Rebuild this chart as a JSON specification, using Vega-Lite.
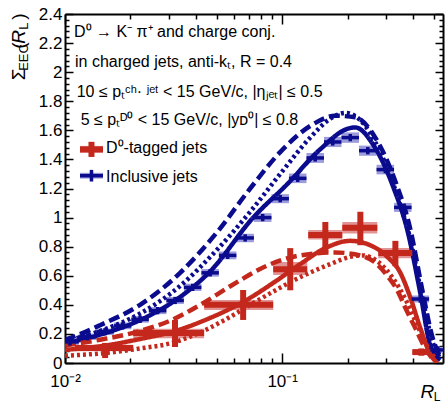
{
  "$schema": "https://vega.github.io/schema/vega-lite/v6.json",
  "width": 378,
  "height": 349,
  "autosize": {"type": "none"},
  "padding": {"left": 65, "top": 14, "right": 4, "bottom": 43},
  "background": "white",
  "config": {"view": {"stroke": null}, "font": "Liberation Sans"},
  "datasets": {
    "pts": [
      {"series":"incl","x":0.01054,"xlo":0.01,"xhi":0.01157,"y":0.145,"ylo":0.12,"yhi":0.17,"slo":0.124,"shi":0.167},
      {"series":"incl","x":0.0127,"xlo":0.01157,"xhi":0.01393,"y":0.18,"ylo":0.155,"yhi":0.205,"slo":0.158,"shi":0.202},
      {"series":"incl","x":0.01529,"xlo":0.01393,"xhi":0.01677,"y":0.215,"ylo":0.19,"yhi":0.24,"slo":0.193,"shi":0.237},
      {"series":"incl","x":0.01841,"xlo":0.01677,"xhi":0.0202,"y":0.255,"ylo":0.23,"yhi":0.28,"slo":0.232,"shi":0.278},
      {"series":"incl","x":0.02216,"xlo":0.0202,"xhi":0.02432,"y":0.3,"ylo":0.275,"yhi":0.325,"slo":0.277,"shi":0.323},
      {"series":"incl","x":0.02669,"xlo":0.02432,"xhi":0.02929,"y":0.36,"ylo":0.335,"yhi":0.385,"slo":0.336,"shi":0.384},
      {"series":"incl","x":0.03213,"xlo":0.02929,"xhi":0.03526,"y":0.43,"ylo":0.405,"yhi":0.455,"slo":0.406,"shi":0.454},
      {"series":"incl","x":0.0387,"xlo":0.03526,"xhi":0.04246,"y":0.52,"ylo":0.495,"yhi":0.545,"slo":0.495,"shi":0.545},
      {"series":"incl","x":0.04659,"xlo":0.04246,"xhi":0.05111,"y":0.62,"ylo":0.595,"yhi":0.645,"slo":0.594,"shi":0.646},
      {"series":"incl","x":0.0561,"xlo":0.05111,"xhi":0.06153,"y":0.74,"ylo":0.715,"yhi":0.765,"slo":0.713,"shi":0.767},
      {"series":"incl","x":0.06755,"xlo":0.06153,"xhi":0.0741,"y":0.86,"ylo":0.835,"yhi":0.885,"slo":0.831,"shi":0.889},
      {"series":"incl","x":0.08133,"xlo":0.0741,"xhi":0.08924,"y":1.0,"ylo":0.975,"yhi":1.025,"slo":0.97,"shi":1.03},
      {"series":"incl","x":0.0979,"xlo":0.08924,"xhi":0.10742,"y":1.13,"ylo":1.105,"yhi":1.155,"slo":1.099,"shi":1.161},
      {"series":"incl","x":0.1179,"xlo":0.10742,"xhi":0.12935,"y":1.27,"ylo":1.245,"yhi":1.295,"slo":1.237,"shi":1.303},
      {"series":"incl","x":0.1419,"xlo":0.12935,"xhi":0.15572,"y":1.41,"ylo":1.385,"yhi":1.435,"slo":1.376,"shi":1.444},
      {"series":"incl","x":0.1709,"xlo":0.15572,"xhi":0.1875,"y":1.52,"ylo":1.495,"yhi":1.545,"slo":1.485,"shi":1.555},
      {"series":"incl","x":0.2058,"xlo":0.1875,"xhi":0.2258,"y":1.55,"ylo":1.525,"yhi":1.575,"slo":1.514,"shi":1.586},
      {"series":"incl","x":0.2478,"xlo":0.2258,"xhi":0.27185,"y":1.46,"ylo":1.435,"yhi":1.485,"slo":1.425,"shi":1.495},
      {"series":"incl","x":0.2984,"xlo":0.27185,"xhi":0.32734,"y":1.33,"ylo":1.305,"yhi":1.355,"slo":1.297,"shi":1.363},
      {"series":"incl","x":0.3592,"xlo":0.32734,"xhi":0.3941,"y":1.07,"ylo":1.045,"yhi":1.095,"slo":1.039,"shi":1.101},
      {"series":"incl","x":0.4325,"xlo":0.3941,"xhi":0.47459,"y":0.44,"ylo":0.415,"yhi":0.465,"slo":0.416,"shi":0.464},
      {"series":"incl","x":0.5207,"xlo":0.47459,"xhi":0.55,"y":0.09,"ylo":0.065,"yhi":0.115,"slo":0.069,"shi":0.111},
      {"series":"D0","x":0.0153,"xlo":0.0111,"xhi":0.0206,"y":0.103,"ylo":0.034,"yhi":0.138,"slo":0.08,"shi":0.125},
      {"series":"D0","x":0.0321,"xlo":0.0206,"xhi":0.0437,"y":0.206,"ylo":0.11,"yhi":0.296,"slo":0.17,"shi":0.235},
      {"series":"D0","x":0.0661,"xlo":0.0437,"xhi":0.0909,"y":0.4,"ylo":0.296,"yhi":0.502,"slo":0.365,"shi":0.433},
      {"series":"D0","x":0.1089,"xlo":0.0909,"xhi":0.1304,"y":0.645,"ylo":0.5,"yhi":0.79,"slo":0.605,"shi":0.695},
      {"series":"D0","x":0.158,"xlo":0.1318,"xhi":0.1891,"y":0.88,"ylo":0.76,"yhi":0.97,"slo":0.85,"shi":0.915},
      {"series":"D0","x":0.229,"xlo":0.1891,"xhi":0.2741,"y":0.93,"ylo":0.81,"yhi":1.04,"slo":0.89,"shi":0.97},
      {"series":"D0","x":0.332,"xlo":0.277,"xhi":0.3973,"y":0.756,"ylo":0.665,"yhi":0.84,"slo":0.72,"shi":0.79},
      {"series":"D0","x":0.4371,"xlo":0.3973,"xhi":0.4809,"y":0.075,"ylo":0.05,"yhi":0.1,"slo":0.06,"shi":0.09}
    ],
    "legend": [
      {"series":"D0","x":0.01324,"xlo":0.01172,"xhi":0.01496,"y":1.469,"ylo":1.417,"yhi":1.521,"slo":1.445,"shi":1.493},
      {"series":"incl","x":0.01324,"xlo":0.01172,"xhi":0.01496,"y":1.288,"ylo":1.248,"yhi":1.328,"slo":1.268,"shi":1.308}
    ],
    "curves": [
      {"model":"incl_solid","series":"incl","style":"solid","x":0.01,"y":0.135},
      {"model":"incl_solid","series":"incl","style":"solid","x":0.0145,"y":0.195},
      {"model":"incl_solid","series":"incl","style":"solid","x":0.02216,"y":0.295},
      {"model":"incl_solid","series":"incl","style":"solid","x":0.03213,"y":0.43},
      {"model":"incl_solid","series":"incl","style":"solid","x":0.04659,"y":0.63},
      {"model":"incl_solid","series":"incl","style":"solid","x":0.07352,"y":1.0},
      {"model":"incl_solid","series":"incl","style":"solid","x":0.1055,"y":1.23},
      {"model":"incl_solid","series":"incl","style":"solid","x":0.1497,"y":1.47},
      {"model":"incl_solid","series":"incl","style":"solid","x":0.1993,"y":1.61},
      {"model":"incl_solid","series":"incl","style":"solid","x":0.217,"y":1.62},
      {"model":"incl_solid","series":"incl","style":"solid","x":0.2627,"y":1.5},
      {"model":"incl_solid","series":"incl","style":"solid","x":0.3247,"y":1.21},
      {"model":"incl_solid","series":"incl","style":"solid","x":0.3767,"y":0.915},
      {"model":"incl_solid","series":"incl","style":"solid","x":0.4325,"y":0.48},
      {"model":"incl_solid","series":"incl","style":"solid","x":0.4809,"y":0.12},
      {"model":"incl_solid","series":"incl","style":"solid","x":0.5348,"y":0.02},
      {"model":"incl_dashed","series":"incl","style":"dashed","x":0.01,"y":0.16},
      {"model":"incl_dashed","series":"incl","style":"dashed","x":0.01136,"y":0.19},
      {"model":"incl_dashed","series":"incl","style":"dashed","x":0.0145,"y":0.26},
      {"model":"incl_dashed","series":"incl","style":"dashed","x":0.02216,"y":0.4},
      {"model":"incl_dashed","series":"incl","style":"dashed","x":0.03388,"y":0.62},
      {"model":"incl_dashed","series":"incl","style":"dashed","x":0.05018,"y":0.9},
      {"model":"incl_dashed","series":"incl","style":"dashed","x":0.07122,"y":1.2},
      {"model":"incl_dashed","series":"incl","style":"dashed","x":0.0979,"y":1.45},
      {"model":"incl_dashed","series":"incl","style":"dashed","x":0.1346,"y":1.63},
      {"model":"incl_dashed","series":"incl","style":"dashed","x":0.1755,"y":1.7},
      {"model":"incl_dashed","series":"incl","style":"dashed","x":0.217,"y":1.69},
      {"model":"incl_dashed","series":"incl","style":"dashed","x":0.2683,"y":1.55},
      {"model":"incl_dashed","series":"incl","style":"dashed","x":0.3317,"y":1.25},
      {"model":"incl_dashed","series":"incl","style":"dashed","x":0.389,"y":0.92},
      {"model":"incl_dashed","series":"incl","style":"dashed","x":0.4418,"y":0.5},
      {"model":"incl_dashed","series":"incl","style":"dashed","x":0.4913,"y":0.18},
      {"model":"incl_dashed","series":"incl","style":"dashed","x":0.5348,"y":0.04},
      {"model":"incl_dotted","series":"incl","style":"dotted","x":0.01,"y":0.15},
      {"model":"incl_dotted","series":"incl","style":"dotted","x":0.0145,"y":0.22},
      {"model":"incl_dotted","series":"incl","style":"dotted","x":0.02216,"y":0.34},
      {"model":"incl_dotted","series":"incl","style":"dotted","x":0.03388,"y":0.53},
      {"model":"incl_dotted","series":"incl","style":"dotted","x":0.05018,"y":0.78},
      {"model":"incl_dotted","series":"incl","style":"dotted","x":0.07122,"y":1.04},
      {"model":"incl_dotted","series":"incl","style":"dotted","x":0.0979,"y":1.3},
      {"model":"incl_dotted","series":"incl","style":"dotted","x":0.1346,"y":1.55},
      {"model":"incl_dotted","series":"incl","style":"dotted","x":0.1664,"y":1.68},
      {"model":"incl_dotted","series":"incl","style":"dotted","x":0.1951,"y":1.72},
      {"model":"incl_dotted","series":"incl","style":"dotted","x":0.2288,"y":1.67},
      {"model":"incl_dotted","series":"incl","style":"dotted","x":0.2829,"y":1.45},
      {"model":"incl_dotted","series":"incl","style":"dotted","x":0.3388,"y":1.15},
      {"model":"incl_dotted","series":"incl","style":"dotted","x":0.389,"y":0.85},
      {"model":"incl_dotted","series":"incl","style":"dotted","x":0.4418,"y":0.45},
      {"model":"incl_dotted","series":"incl","style":"dotted","x":0.4913,"y":0.15},
      {"model":"incl_dotted","series":"incl","style":"dotted","x":0.5348,"y":0.03},
      {"model":"D0_solid","series":"D0","style":"solid","x":0.01,"y":0.09},
      {"model":"D0_solid","series":"D0","style":"solid","x":0.01529,"y":0.12},
      {"model":"D0_solid","series":"D0","style":"solid","x":0.02216,"y":0.165},
      {"model":"D0_solid","series":"D0","style":"solid","x":0.03213,"y":0.22},
      {"model":"D0_solid","series":"D0","style":"solid","x":0.04659,"y":0.31},
      {"model":"D0_solid","series":"D0","style":"solid","x":0.06613,"y":0.42},
      {"model":"D0_solid","series":"D0","style":"solid","x":0.09284,"y":0.56},
      {"model":"D0_solid","series":"D0","style":"solid","x":0.121,"y":0.68},
      {"model":"D0_solid","series":"D0","style":"solid","x":0.1579,"y":0.79},
      {"model":"D0_solid","series":"D0","style":"solid","x":0.2058,"y":0.84},
      {"model":"D0_solid","series":"D0","style":"solid","x":0.2544,"y":0.81},
      {"model":"D0_solid","series":"D0","style":"solid","x":0.3047,"y":0.73},
      {"model":"D0_solid","series":"D0","style":"solid","x":0.3499,"y":0.62},
      {"model":"D0_solid","series":"D0","style":"solid","x":0.389,"y":0.45},
      {"model":"D0_solid","series":"D0","style":"solid","x":0.4325,"y":0.24},
      {"model":"D0_solid","series":"D0","style":"solid","x":0.4809,"y":0.06},
      {"model":"D0_solid","series":"D0","style":"solid","x":0.518,"y":0.0},
      {"model":"D0_dashed","series":"D0","style":"dashed","x":0.01,"y":0.12},
      {"model":"D0_dashed","series":"D0","style":"dashed","x":0.0145,"y":0.16},
      {"model":"D0_dashed","series":"D0","style":"dashed","x":0.02216,"y":0.22},
      {"model":"D0_dashed","series":"D0","style":"dashed","x":0.03145,"y":0.3},
      {"model":"D0_dashed","series":"D0","style":"dashed","x":0.0419,"y":0.4},
      {"model":"D0_dashed","series":"D0","style":"dashed","x":0.05946,"y":0.54},
      {"model":"D0_dashed","series":"D0","style":"dashed","x":0.08528,"y":0.67},
      {"model":"D0_dashed","series":"D0","style":"dashed","x":0.121,"y":0.74},
      {"model":"D0_dashed","series":"D0","style":"dashed","x":0.1755,"y":0.76},
      {"model":"D0_dashed","series":"D0","style":"dashed","x":0.2288,"y":0.74},
      {"model":"D0_dashed","series":"D0","style":"dashed","x":0.2683,"y":0.69},
      {"model":"D0_dashed","series":"D0","style":"dashed","x":0.3047,"y":0.6},
      {"model":"D0_dashed","series":"D0","style":"dashed","x":0.3388,"y":0.5},
      {"model":"D0_dashed","series":"D0","style":"dashed","x":0.3689,"y":0.38},
      {"model":"D0_dashed","series":"D0","style":"dashed","x":0.4102,"y":0.24},
      {"model":"D0_dashed","series":"D0","style":"dashed","x":0.456,"y":0.1},
      {"model":"D0_dashed","series":"D0","style":"dashed","x":0.4966,"y":0.02},
      {"model":"D0_dotted","series":"D0","style":"dotted","x":0.01,"y":0.05},
      {"model":"D0_dotted","series":"D0","style":"dotted","x":0.01562,"y":0.07},
      {"model":"D0_dotted","series":"D0","style":"dotted","x":0.02216,"y":0.1},
      {"model":"D0_dotted","series":"D0","style":"dotted","x":0.03145,"y":0.14},
      {"model":"D0_dotted","series":"D0","style":"dotted","x":0.0419,"y":0.21},
      {"model":"D0_dotted","series":"D0","style":"dotted","x":0.05348,"y":0.29},
      {"model":"D0_dotted","series":"D0","style":"dotted","x":0.07917,"y":0.44},
      {"model":"D0_dotted","series":"D0","style":"dotted","x":0.121,"y":0.59},
      {"model":"D0_dotted","series":"D0","style":"dotted","x":0.1664,"y":0.68},
      {"model":"D0_dotted","series":"D0","style":"dotted","x":0.2058,"y":0.73},
      {"model":"D0_dotted","series":"D0","style":"dotted","x":0.2337,"y":0.74},
      {"model":"D0_dotted","series":"D0","style":"dotted","x":0.2741,"y":0.7},
      {"model":"D0_dotted","series":"D0","style":"dotted","x":0.3247,"y":0.58},
      {"model":"D0_dotted","series":"D0","style":"dotted","x":0.3689,"y":0.44},
      {"model":"D0_dotted","series":"D0","style":"dotted","x":0.4102,"y":0.29},
      {"model":"D0_dotted","series":"D0","style":"dotted","x":0.456,"y":0.14},
      {"model":"D0_dotted","series":"D0","style":"dotted","x":0.507,"y":0.03}
    ],
    "notes": [
      {"t":"D⁰ → K⁻ π⁺ and charge conj.","x":0.011,"y":2.242},
      {"t":"in charged jets, anti-kₜ, R = 0.4","x":0.01112,"y":2.036},
      {"t":"10 ≤ pₜᶜʰ· ʲᵉᵗ < 15 GeV/c, |ηⱼₑₜ| ≤ 0.5","x":0.01132,"y":1.829},
      {"t":"5 ≤ pₜᴰ⁰ < 15 GeV/c, |yᴅ⁰| ≤ 0.8","x":0.01181,"y":1.637},
      {"t":"D⁰-tagged jets","x":0.01545,"y":1.444},
      {"t":"Inclusive jets","x":0.01545,"y":1.245}
    ],
    "titles": [
      {"t":"Σ","x":0.00654,"y":1.984,"kind":"yMain"},
      {"t":"EEC","x":0.006753,"y":2.101,"kind":"ySub"},
      {"t":"(","x":0.00654,"y":2.183,"kind":"yMain"},
      {"t":"R","x":0.00654,"y":2.242,"kind":"yIt"},
      {"t":"L","x":0.006753,"y":2.317,"kind":"ySub"},
      {"t":")","x":0.00654,"y":2.383,"kind":"yMain"},
      {"t":"R","x":0.4658,"y":-0.2407,"kind":"xIt"},
      {"t":"L","x":0.4985,"y":-0.2613,"kind":"xSub"}
    ]
  },
  "layer": [
    {
      "data": {"name": "pts"},
      "mark": {"type": "rect"},
      "encoding": {
        "x": {"field": "xlo", "type": "quantitative", "scale": {"type": "log", "domain": [0.01, 0.55], "nice": false},
          "axis": {"orient": "bottom", "title": null, "grid": false,
            "values": [0.01,0.02,0.03,0.04,0.05,0.06,0.07,0.08,0.09,0.1,0.2,0.3,0.4,0.5],
            "labelExpr": "datum.value == 0.01 ? '10⁻²' : (datum.value == 0.1 ? '10⁻¹' : '')",
            "tickSize": {"condition": {"test": "datum.value == 0.01 || datum.value == 0.1", "value": -10}, "value": -5},
            "tickColor": "black", "tickWidth": 1.5, "domainColor": "black", "domainWidth": 2,
            "labelFont": "Liberation Sans", "labelFontSize": 17, "labelColor": "black", "labelPadding": 20,
            "labelOverlap": false, "labelFlush": false, "labelBound": false}},
        "x2": {"field": "xhi"},
        "y": {"field": "slo", "type": "quantitative", "scale": {"domain": [0, 2.4], "nice": false, "zero": false},
          "axis": {"orient": "left", "title": null, "grid": false,
            "values": [0,0.04,0.08,0.12,0.16,0.2,0.24,0.28,0.32,0.36,0.4,0.44,0.48,0.52,0.56,0.6,0.64,0.68,0.72,0.76,0.8,0.84,0.88,0.92,0.96,1,1.04,1.08,1.12,1.16,1.2,1.24,1.28,1.32,1.36,1.4,1.44,1.48,1.52,1.56,1.6,1.64,1.68,1.72,1.76,1.8,1.84,1.88,1.92,1.96,2,2.04,2.08,2.12,2.16,2.2,2.24,2.28,2.32,2.36,2.4],
            "labelExpr": "abs(datum.value*5 - round(datum.value*5)) < 0.001 ? toString(round(datum.value*10)/10) : ''",
            "tickSize": {"condition": {"test": "abs(datum.value*5 - round(datum.value*5)) < 0.001", "value": -8}, "value": -4},
            "tickColor": "black", "tickWidth": 1.5, "domainColor": "black", "domainWidth": 2,
            "labelFont": "Liberation Sans", "labelFontSize": 17, "labelColor": "black", "labelPadding": 11,
            "labelOverlap": false, "labelBound": false, "labelFlush": false}},
        "y2": {"field": "shi"},
        "fill": {"field": "series", "type": "nominal", "scale": {"domain": ["D0", "incl"], "range": ["#e29494", "#9c9cdc"]}, "legend": null}
      }
    },
    {
      "data": {"name": "legend"},
      "mark": {"type": "rect"},
      "encoding": {
        "x": {"field": "xlo", "type": "quantitative", "scale": {"type": "log", "domain": [0.01, 0.55], "nice": false},
          "axis": {"orient": "top", "title": null, "grid": false, "labels": false,
            "values": [0.01,0.02,0.03,0.04,0.05,0.06,0.07,0.08,0.09,0.1,0.2,0.3,0.4,0.5],
            "tickSize": {"condition": {"test": "datum.value == 0.01 || datum.value == 0.1", "value": -10}, "value": -5},
            "tickColor": "black", "tickWidth": 1.5, "domainColor": "black", "domainWidth": 2}},
        "x2": {"field": "xhi"},
        "y": {"field": "slo", "type": "quantitative", "scale": {"domain": [0, 2.4], "nice": false, "zero": false},
          "axis": {"orient": "right", "title": null, "grid": false, "labels": false,
            "values": [0,0.04,0.08,0.12,0.16,0.2,0.24,0.28,0.32,0.36,0.4,0.44,0.48,0.52,0.56,0.6,0.64,0.68,0.72,0.76,0.8,0.84,0.88,0.92,0.96,1,1.04,1.08,1.12,1.16,1.2,1.24,1.28,1.32,1.36,1.4,1.44,1.48,1.52,1.56,1.6,1.64,1.68,1.72,1.76,1.8,1.84,1.88,1.92,1.96,2,2.04,2.08,2.12,2.16,2.2,2.24,2.28,2.32,2.36,2.4],
            "tickSize": {"condition": {"test": "abs(datum.value*5 - round(datum.value*5)) < 0.001", "value": -8}, "value": -4},
            "tickColor": "black", "tickWidth": 1.5, "domainColor": "black", "domainWidth": 2}},
        "y2": {"field": "shi"},
        "fill": {"field": "series", "type": "nominal", "scale": {"domain": ["D0", "incl"], "range": ["#e29494", "#9c9cdc"]}, "legend": null}
      }
    },
    {
      "data": {"name": "curves"},
      "mark": {"type": "line", "strokeWidth": 4.5, "interpolate": "monotone", "clip": true},
      "encoding": {
        "x": {"field": "x", "type": "quantitative", "scale": {"type": "log", "domain": [0.01, 0.55], "nice": false}, "axis": null},
        "y": {"field": "y", "type": "quantitative", "scale": {"domain": [0, 2.4], "nice": false, "zero": false}, "axis": null},
        "color": {"field": "series", "type": "nominal", "scale": {"domain": ["D0", "incl"], "range": ["#c4281c", "#0b0b8e"]}, "legend": null},
        "strokeDash": {"field": "style", "type": "nominal", "scale": {"domain": ["solid", "dashed", "dotted"], "range": [[1, 0], [11, 5], [3, 3]]}, "legend": null},
        "detail": {"field": "model"}
      }
    },
    {
      "data": {"name": "pts"},
      "mark": {"type": "rule"},
      "encoding": {
        "x": {"field": "xlo", "type": "quantitative", "scale": {"type": "log", "domain": [0.01, 0.55], "nice": false}, "axis": null},
        "x2": {"field": "xhi"},
        "y": {"field": "y", "type": "quantitative", "scale": {"domain": [0, 2.4], "nice": false, "zero": false}, "axis": null},
        "color": {"field": "series", "type": "nominal", "scale": {"domain": ["D0", "incl"], "range": ["#c4281c", "#0b0b8e"]}, "legend": null},
        "strokeWidth": {"field": "series", "type": "ordinal", "scale": {"domain": ["D0", "incl"], "range": [6, 3.5]}, "legend": null}
      }
    },
    {
      "data": {"name": "pts"},
      "mark": {"type": "rule"},
      "encoding": {
        "x": {"field": "x", "type": "quantitative", "scale": {"type": "log", "domain": [0.01, 0.55], "nice": false}, "axis": null},
        "y": {"field": "ylo", "type": "quantitative", "scale": {"domain": [0, 2.4], "nice": false, "zero": false}, "axis": null},
        "y2": {"field": "yhi"},
        "color": {"field": "series", "type": "nominal", "scale": {"domain": ["D0", "incl"], "range": ["#c4281c", "#0b0b8e"]}, "legend": null},
        "strokeWidth": {"field": "series", "type": "ordinal", "scale": {"domain": ["D0", "incl"], "range": [6, 3.5]}, "legend": null}
      }
    },
    {
      "data": {"name": "legend"},
      "mark": {"type": "rule"},
      "encoding": {
        "x": {"field": "xlo", "type": "quantitative", "scale": {"type": "log", "domain": [0.01, 0.55], "nice": false}, "axis": null},
        "x2": {"field": "xhi"},
        "y": {"field": "y", "type": "quantitative", "scale": {"domain": [0, 2.4], "nice": false, "zero": false}, "axis": null},
        "color": {"field": "series", "type": "nominal", "scale": {"domain": ["D0", "incl"], "range": ["#c4281c", "#0b0b8e"]}, "legend": null},
        "strokeWidth": {"field": "series", "type": "ordinal", "scale": {"domain": ["D0", "incl"], "range": [6, 3.5]}, "legend": null}
      }
    },
    {
      "data": {"name": "legend"},
      "mark": {"type": "rule"},
      "encoding": {
        "x": {"field": "x", "type": "quantitative", "scale": {"type": "log", "domain": [0.01, 0.55], "nice": false}, "axis": null},
        "y": {"field": "ylo", "type": "quantitative", "scale": {"domain": [0, 2.4], "nice": false, "zero": false}, "axis": null},
        "y2": {"field": "yhi"},
        "color": {"field": "series", "type": "nominal", "scale": {"domain": ["D0", "incl"], "range": ["#c4281c", "#0b0b8e"]}, "legend": null},
        "strokeWidth": {"field": "series", "type": "ordinal", "scale": {"domain": ["D0", "incl"], "range": [6, 3.5]}, "legend": null}
      }
    },
    {
      "data": {"name": "notes"},
      "mark": {"type": "text", "align": "left", "baseline": "alphabetic", "fontSize": 16, "font": "Liberation Sans", "color": "black"},
      "encoding": {
        "x": {"field": "x", "type": "quantitative", "scale": {"type": "log", "domain": [0.01, 0.55], "nice": false}, "axis": null},
        "y": {"field": "y", "type": "quantitative", "scale": {"domain": [0, 2.4], "nice": false, "zero": false}, "axis": null},
        "text": {"field": "t"}
      }
    },
    {
      "data": {"name": "titles"},
      "transform": [{"filter": "datum.kind == 'yMain'"}],
      "mark": {"type": "text", "align": "center", "baseline": "alphabetic", "angle": 270, "fontSize": 19, "font": "Liberation Sans", "color": "black"},
      "encoding": {
        "x": {"field": "x", "type": "quantitative", "scale": {"type": "log", "domain": [0.01, 0.55], "nice": false}, "axis": null},
        "y": {"field": "y", "type": "quantitative", "scale": {"domain": [0, 2.4], "nice": false, "zero": false}, "axis": null},
        "text": {"field": "t"}
      }
    },
    {
      "data": {"name": "titles"},
      "transform": [{"filter": "datum.kind == 'yIt'"}],
      "mark": {"type": "text", "align": "center", "baseline": "alphabetic", "angle": 270, "fontSize": 19, "fontStyle": "italic", "font": "Liberation Sans", "color": "black"},
      "encoding": {
        "x": {"field": "x", "type": "quantitative", "scale": {"type": "log", "domain": [0.01, 0.55], "nice": false}, "axis": null},
        "y": {"field": "y", "type": "quantitative", "scale": {"domain": [0, 2.4], "nice": false, "zero": false}, "axis": null},
        "text": {"field": "t"}
      }
    },
    {
      "data": {"name": "titles"},
      "transform": [{"filter": "datum.kind == 'ySub'"}],
      "mark": {"type": "text", "align": "center", "baseline": "alphabetic", "angle": 270, "fontSize": 13, "font": "Liberation Sans", "color": "black"},
      "encoding": {
        "x": {"field": "x", "type": "quantitative", "scale": {"type": "log", "domain": [0.01, 0.55], "nice": false}, "axis": null},
        "y": {"field": "y", "type": "quantitative", "scale": {"domain": [0, 2.4], "nice": false, "zero": false}, "axis": null},
        "text": {"field": "t"}
      }
    },
    {
      "data": {"name": "titles"},
      "transform": [{"filter": "datum.kind == 'xIt'"}],
      "mark": {"type": "text", "align": "center", "baseline": "alphabetic", "fontSize": 19, "fontStyle": "italic", "font": "Liberation Sans", "color": "black"},
      "encoding": {
        "x": {"field": "x", "type": "quantitative", "scale": {"type": "log", "domain": [0.01, 0.55], "nice": false}, "axis": null},
        "y": {"field": "y", "type": "quantitative", "scale": {"domain": [0, 2.4], "nice": false, "zero": false}, "axis": null},
        "text": {"field": "t"}
      }
    },
    {
      "data": {"name": "titles"},
      "transform": [{"filter": "datum.kind == 'xSub'"}],
      "mark": {"type": "text", "align": "left", "baseline": "alphabetic", "fontSize": 12, "font": "Liberation Sans", "color": "black"},
      "encoding": {
        "x": {"field": "x", "type": "quantitative", "scale": {"type": "log", "domain": [0.01, 0.55], "nice": false}, "axis": null},
        "y": {"field": "y", "type": "quantitative", "scale": {"domain": [0, 2.4], "nice": false, "zero": false}, "axis": null},
        "text": {"field": "t"}
      }
    }
  ],
  "resolve": {"axis": {"x": "independent", "y": "independent"}}
}
